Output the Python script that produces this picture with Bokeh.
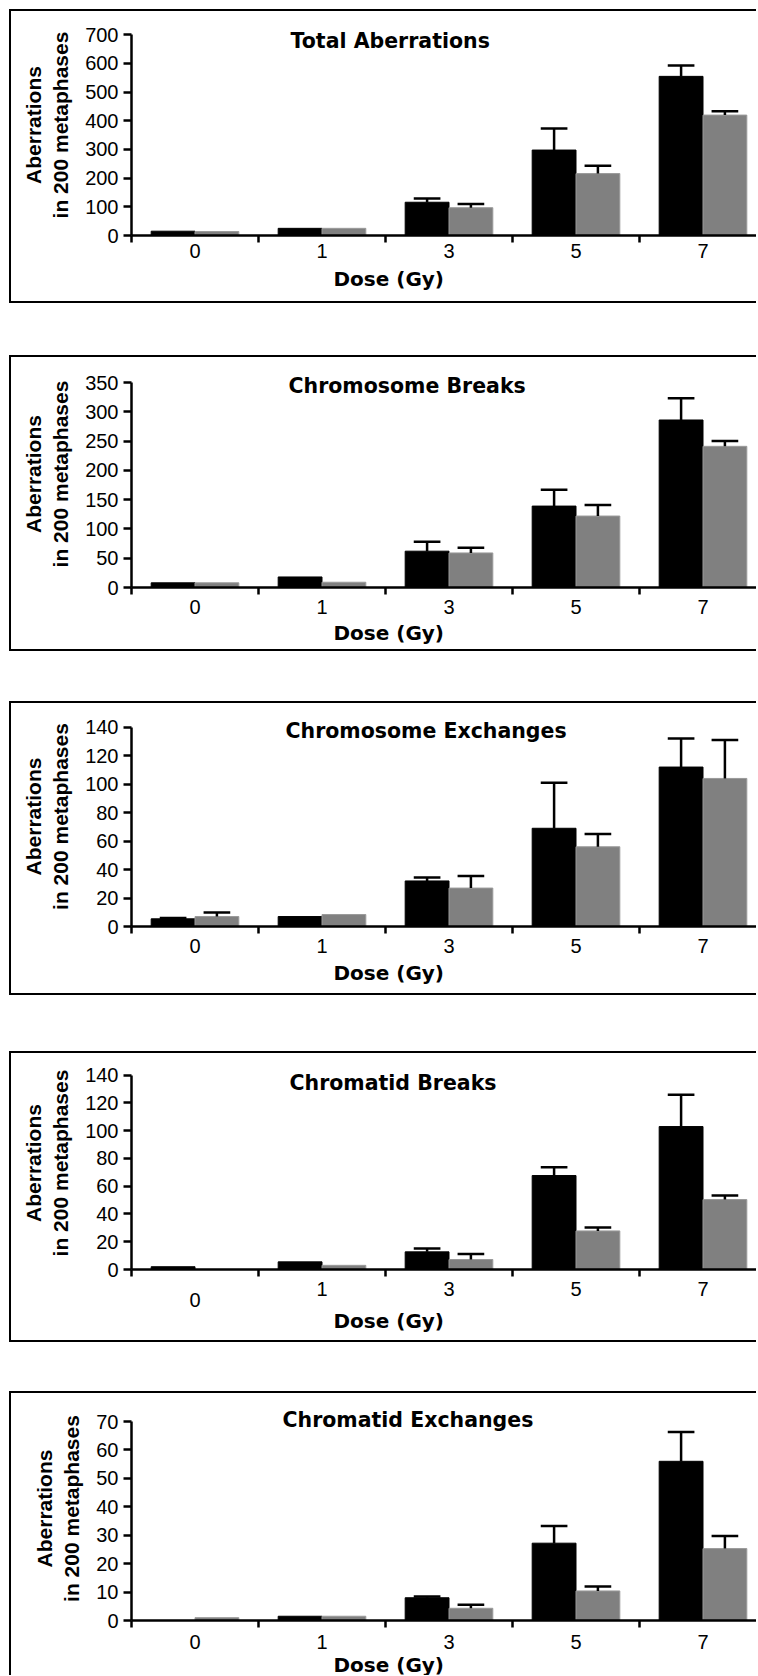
from bokeh.plotting import figure
from bokeh.models import (FixedTicker, Label, ColumnDataSource, Spacer, Range1d,
                          LinearAxis, Title)
from bokeh.layouts import column, row
from bokeh.embed import file_html
from bokeh.resources import INLINE

# ---------------- data ----------------
doses = ["0", "1", "3", "5", "7"]

titles = ["Total Aberrations", "Chromosome Breaks", "Chromosome Exchanges",
          "Chromatid Breaks", "Chromatid Exchanges"]

total_black = [15, 25, 116, 298, 555]
total_black_err = [0, 0, 13, 75, 38]
total_gray = [14, 25, 97, 216, 420]
total_gray_err = [0, 0, 13, 27, 13]
total_ticks = [0, 100, 200, 300, 400, 500, 600, 700]

csb_black = [8, 18, 62, 139, 286]
csb_black_err = [0, 0, 16, 28, 37]
csb_gray = [8, 9, 59, 122, 241]
csb_gray_err = [0, 0, 9, 19, 9]
csb_ticks = [0, 50, 100, 150, 200, 250, 300, 350]

cse_black = [5.4, 7, 32, 69, 112]
cse_black_err = [0.5, 0, 2.5, 32, 20]
cse_gray = [7, 8.4, 27, 56, 104]
cse_gray_err = [2.8, 0, 8.5, 9, 27]
cse_ticks = [0, 20, 40, 60, 80, 100, 120, 140]

ctb_black = [2, 5.5, 12.7, 67.7, 103]
ctb_black_err = [0, 0, 2.4, 6, 23]
ctb_gray = [0, 3, 7.2, 27.8, 50.4]
ctb_gray_err = [0, 0, 4, 2.5, 3]
ctb_ticks = [0, 20, 40, 60, 80, 100, 120, 140]

cte_black = [0, 1.5, 8, 27.2, 56]
cte_black_err = [0, 0, 0.4, 6, 10.3]
cte_gray = [1, 1.5, 4.3, 10.4, 25.3]
cte_gray_err = [0, 0, 1.2, 1.6, 4.4]
cte_ticks = [0, 10, 20, 30, 40, 50, 60, 70]

x_title = "Dose (Gy)"
y_title = "Aberrations\nin 200 metaphases"

BLACK = "#000000"
GRAY = "#808080"
CAT_PX = 127.0
BAR_W = 0.345
CAP_HALF = 0.105
BORDER = 2
FIG_W = 747
LEFT_PAD = 9
AXIS_X = 131            # page x of the y axis
XLABEL_LEFT = 333       # page x where "Dose (Gy)" starts
MBT = 3


def make_panel(title, yticks, black, black_err, gray, gray_err, cfg):
    ymax = yticks[-1]
    E, h, Yt, Yb = cfg["E"], cfg["h"], cfg["Yt"], cfg["Yb"]
    canvas_top = E + BORDER
    frame_top = canvas_top + MBT
    fh = int(round(Yb - frame_top))
    mbb = h - MBT - fh
    per_unit = (Yb - Yt) / ymax
    y_end = fh / per_unit
    mbl = AXIS_X - (LEFT_PAD + BORDER)
    frame_w = FIG_W - mbl
    x_end = -0.5 + frame_w / CAT_PX

    p = figure(width=FIG_W, height=h,
               x_range=Range1d(-0.5, x_end), y_range=Range1d(0, y_end),
               output_backend="svg", toolbar_location=None,
               min_border_left=mbl, min_border_right=0,
               min_border_top=MBT, min_border_bottom=mbb)
    p.xgrid.visible = False
    p.ygrid.visible = False
    p.outline_line_color = None
    p.background_fill_color = "white"
    p.border_fill_color = "white"
    b = f"{BORDER}px solid black"
    borders = {"border-top": b, "border-left": b}
    if cfg.get("bottom_border", True):
        borders["border-bottom"] = b
    p.styles = borders

    idx = list(range(len(doses)))
    xb = [i - BAR_W / 2 for i in idx]
    xg = [i + BAR_W / 2 for i in idx]

    p.vbar(x=xb, top=black, width=BAR_W, bottom=0,
           fill_color=BLACK, line_color=BLACK, line_width=1)
    p.vbar(x=xg, top=gray, width=BAR_W, bottom=0,
           fill_color=GRAY, line_color="#9a9a9a", line_width=1)

    for xs, vals, errs in ((xb, black, black_err), (xg, gray, gray_err)):
        sx, sv, st = [], [], []
        for x, v, e in zip(xs, vals, errs):
            if e > 0:
                sx.append(x)
                sv.append(v)
                st.append(v + e)
        src = ColumnDataSource(dict(x=sx, v=sv, t=st,
                                    x0=[x - CAP_HALF for x in sx],
                                    x1=[x + CAP_HALF for x in sx]))
        p.segment(x0="x", y0="v", x1="x", y1="t", source=src,
                  line_color=BLACK, line_width=2.5)
        p.segment(x0="x0", y0="t", x1="x1", y1="t", source=src,
                  line_color=BLACK, line_width=2.5)

    # y axis
    ya = p.yaxis[0]
    ya.bounds = (0, ymax)
    ya.ticker = FixedTicker(ticks=yticks, minor_ticks=[])
    ya.axis_line_width = 2.5
    ya.axis_line_color = BLACK
    ya.major_tick_line_width = 2.5
    ya.major_tick_line_color = BLACK
    ya.major_tick_out = 8
    ya.major_tick_in = 0
    ya.minor_tick_line_color = None
    ya.major_label_text_font = "Liberation Sans"
    ya.major_label_text_font_size = "20px"
    ya.major_label_text_color = BLACK
    ya.major_label_standoff = 5
    ya.axis_label = y_title
    ya.axis_label_text_font = "Liberation Sans"
    ya.axis_label_text_font_style = "bold"
    ya.axis_label_text_font_size = "21px"
    ya.axis_label_text_color = BLACK
    ya.axis_label_standoff = 10

    # main x axis: line, boundary ticks, category labels
    xa = p.xaxis[0]
    xa.ticker = FixedTicker(ticks=idx, minor_ticks=[i - 0.5 for i in range(len(doses) + 1)])
    overrides = {i: d for i, d in zip(idx, doses)}
    low = cfg.get("low_zero")
    if low is not None:
        overrides[0] = ""
    xa.major_label_overrides = overrides
    xa.axis_line_width = 2.5
    xa.axis_line_color = BLACK
    xa.major_tick_line_color = None
    xa.major_tick_out = 7
    xa.major_tick_in = 0
    xa.minor_tick_line_color = BLACK
    xa.minor_tick_line_width = 2.5
    xa.minor_tick_out = 7
    xa.minor_tick_in = 0
    xa.major_label_text_font = "Liberation Sans"
    xa.major_label_text_font_size = "20px"
    xa.major_label_text_color = BLACK
    xa.major_label_standoff = cfg["s1"]
    xa.axis_label = None

    if low is not None:
        # the lowered "0" label of this panel
        xa2 = LinearAxis(ticker=FixedTicker(ticks=[0], minor_ticks=[]),
                         major_label_overrides={0: doses[0]})
        xa2.axis_line_color = None
        xa2.major_tick_line_color = None
        xa2.minor_tick_line_color = None
        xa2.major_tick_out = 0
        xa2.major_tick_in = 0
        xa2.major_label_text_font = "Liberation Sans"
        xa2.major_label_text_font_size = "20px"
        xa2.major_label_standoff = low
        xa2.major_label_text_color = BLACK
        xa2.axis_label = None
        p.add_layout(xa2, "below")

    # x axis title, placed left of the frame centre as in the original
    p.add_layout(Title(text=x_title, align="left", vertical_align="bottom",
                       offset=XLABEL_LEFT - AXIS_X, standoff=cfg["s2"],
                       text_font="DejaVu Sans", text_font_style="bold",
                       text_font_size="20px", text_color=BLACK), "below")

    tx = (cfg["tx"] - AXIS_X) / CAT_PX - 0.5
    ty = (Yb - cfg["ty"]) / per_unit
    p.add_layout(Label(x=tx, y=ty, text=title,
                       text_align="left", text_baseline="middle",
                       text_font="DejaVu Sans", text_font_style="bold",
                       text_font_size="20.5px", text_color=BLACK))
    return p


# layout constants (page pixels): element top, element height, y of top tick,
# y of zero line, title left / centre, standoffs
cfgs = [
    dict(E=9, h=294, Yt=34.3, Yb=235, s1=1, s2=9, tx=290, ty=40),
    dict(E=355, h=296, Yt=381.7, Yb=586.7, s1=5, s2=5, tx=288, ty=385),
    dict(E=701, h=294, Yt=726.7, Yb=926, s1=5, s2=7, tx=285, ty=730),
    dict(E=1051, h=291, Yt=1075, Yb=1269.3, s1=5, s2=-6, tx=289, ty=1083,
         low_zero=-6),
    dict(E=1391, h=284, Yt=1421, Yb=1620, s1=7, s2=-2, tx=282, ty=1419,
         bottom_border=False),
]

series = [
    (total_ticks, total_black, total_black_err, total_gray, total_gray_err),
    (csb_ticks, csb_black, csb_black_err, csb_gray, csb_gray_err),
    (cse_ticks, cse_black, cse_black_err, cse_gray, cse_gray_err),
    (ctb_ticks, ctb_black, ctb_black_err, ctb_gray, ctb_gray_err),
    (cte_ticks, cte_black, cte_black_err, cte_gray, cte_gray_err),
]

panels = []
for title, s, cfg in zip(titles, series, cfgs):
    panels.append(make_panel(title, *s, cfg))

children = [Spacer(height=cfgs[0]["E"])]
prev_end = cfgs[0]["E"]
for i, (p, cfg) in enumerate(zip(panels, cfgs)):
    if i > 0:
        children.append(Spacer(height=cfg["E"] - prev_end))
    children.append(p)
    prev_end = cfg["E"] + cfg["h"]

layout = row(Spacer(width=LEFT_PAD), column(*children))

open("out.html", "w").write(file_html(layout, INLINE))
